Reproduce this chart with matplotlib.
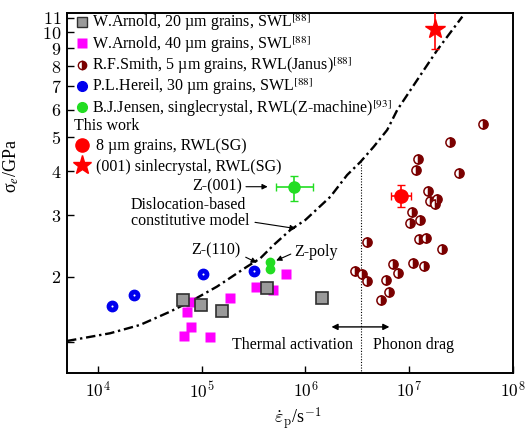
import matplotlib
matplotlib.use("Agg")
import matplotlib.pyplot as plt
from matplotlib.lines import Line2D
from matplotlib.font_manager import FontProperties

plt.rcParams["font.family"] = ["Liberation Serif", "DejaVu Serif"]
plt.rcParams["mathtext.fontset"] = "cm"

# ---------- data ----------
arnold20_x = [6.61e4, 9.92e4, 1.57e5, 4.30e5, 1.45e6]
arnold20_y = [1.714, 1.656, 1.595, 1.859, 1.741]

arnold40_x = [7.89e4, 7.27e4, 1.89e5, 3.37e5, 4.88e5, 6.56e5, 7.94e4, 6.80e4, 1.20e5]
arnold40_y = [1.696, 1.585, 1.741, 1.864, 1.828, 2.035, 1.433, 1.350, 1.341]

smith_x = [5.13e7, 2.45e7, 1.223e7, 1.17e7, 2.99e7, 1.527e7, 1.571e7, 1.836e7, 1.768e7,
           1.061e7, 1.023e7, 1.258e7, 3.94e6, 1.239e7, 1.46e7, 2.065e7, 6.91e6, 1.084e7,
           1.384e7, 7.84e6, 3.04e6, 3.55e6, 3.94e6, 6.01e6, 6.42e6, 5.41e6]
smith_y = [5.453, 4.853, 4.347, 4.036, 3.950, 3.508, 3.284, 3.327, 3.226,
           3.066, 2.853, 2.904, 2.517, 2.557, 2.584, 2.404, 2.174, 2.184,
           2.145, 2.052, 2.076, 2.035, 1.944, 1.956, 1.807, 1.714]

hereil_x = [1.365e4, 2.24e4, 1.044e5, 3.17e5]
hereil_y = [1.648, 1.769, 2.031, 2.076]

jensen001_x, jensen001_y = 7.71e5, 3.615
jensen001_xerr = [[2.46e5], [4.22e5]]
jensen001_yerr = [[0.32], [0.27]]
jensen_poly_x = [4.60e5, 4.60e5]
jensen_poly_y = [2.198, 2.099]

sg8_x, sg8_y = 8.38e6, 3.401
sg8_xerr = [[1.67e6], [2.09e6]]
sg8_yerr = [[0.23], [0.26]]

sc001_x, sc001_y = 1.768e7, 10.19
sc001_yerr = [[1.26], [1.44]]

model_x = [5.06e3, 1.314e4, 2.56e4, 4.98e4, 7.77e4, 1.407e5, 2.74e5, 3.68e5, 4.95e5,
           7.17e5, 1.0e6, 1.743e6, 2.525e6, 3.39e6, 4.56e6, 6.14e6, 7.67e6, 1.109e7,
           1.865e7, 3.25e7]
model_y = [1.309, 1.377, 1.455, 1.588, 1.696, 1.872, 2.135, 2.256, 2.463,
           2.719, 2.904, 3.385, 3.905, 4.255, 4.706, 5.253, 5.991, 7.063,
           8.894, 11.08]

boundary_x = 3.44e6
boundary_ytop = 4.255

yticks = [2, 3, 4, 5, 6, 7, 8, 9, 10, 11]
xticks = [1e4, 1e5, 1e6, 1e7, 1e8]
xtick_labels = [r"$10^{4}$", r"$10^{5}$", r"$10^{6}$", r"$10^{7}$", r"$10^{8}$"]

# ---------- figure ----------
fig = plt.figure(figsize=(5.28, 4.33), dpi=100)
ax = fig.add_axes([67 / 528, 1 - 373.3 / 433, (513 - 67) / 528, (373.3 - 12.7) / 433])
ax.set_xscale("log")
ax.set_yscale("log")
ax.set_xlim(5.06e3, 1e8)
ax.set_ylim(1.058, 11.37)

DARKRED = "#7a0000"

ax.plot(model_x, model_y, color="black", lw=1.7, dashes=(4, 1.6, 1, 1.6), zorder=2)
ax.plot([boundary_x, boundary_x], [1.0, boundary_ytop], color="black", lw=0.8,
        ls=(0, (1, 1.5)), zorder=1)

ax.plot(arnold40_x, arnold40_y, "s", ms=7.2, color="#ff00ff", mec="none", zorder=3)
ax.plot(arnold20_x, arnold20_y, "s", ms=8.2, mfc="#9a9a9a", mec="#303030", mew=1.2, zorder=4)
ax.plot(hereil_x, hereil_y, "o", ms=7.5, color="#0000ee", mec="#0000ee", zorder=4)
ax.plot(hereil_x, hereil_y, "o", ms=1.5, color="white", mec="none", zorder=5)
ax.plot(smith_x, smith_y, "o", ms=6.6, fillstyle="right", mfc=DARKRED, mfcalt="white",
        mec=DARKRED, mew=1.1, zorder=4)
ax.plot(jensen_poly_x, jensen_poly_y, "o", ms=6, color="#22dd22", zorder=4)
ax.errorbar(jensen001_x, jensen001_y, xerr=jensen001_xerr, yerr=jensen001_yerr, fmt="o",
            ms=8, color="#22dd22", ecolor="#22dd22", elinewidth=1.2, capsize=3, zorder=4)
ax.errorbar(sg8_x, sg8_y, xerr=sg8_xerr, yerr=sg8_yerr, fmt="o", ms=9.5, color="red",
            ecolor="red", elinewidth=1.2, capsize=3, zorder=5)
ax.errorbar(sc001_x, sc001_y, yerr=sc001_yerr, fmt="*", ms=15, color="red",
            ecolor="red", elinewidth=1.2, capsize=3, zorder=5)

# annotations
tfs = 11.5
arrow = dict(arrowstyle="-|>", color="black", lw=0.8, mutation_scale=8)
ax.annotate("", xy=(4.61e5, 3.615), xytext=(2.52e5, 3.615), arrowprops=arrow)
ax.text(2.45e5, 3.615, "Z-(001)", ha="right", va="center", fontsize=tfs)

ax.text(2.096e4, 3.041, "Dislocation-based\nconstitutive model", ha="left", va="center",
        fontsize=tfs, linespacing=0.95)
ax.annotate("", xy=(8.56e5, 2.737), xytext=(3.08e5, 2.867), arrowprops=arrow)

ax.text(1.385e5, 2.383, "Z-(110)", ha="center", va="center", fontsize=tfs)
ax.annotate("", xy=(3.60e5, 2.174), xytext=(2.52e5, 2.291), arrowprops=arrow)

ax.text(1.277e6, 2.357, "Z-poly", ha="center", va="center", fontsize=tfs)
ax.annotate("", xy=(4.95e5, 2.207), xytext=(7.66e5, 2.337), arrowprops=arrow)

ax.annotate("", xy=(1.678e6, 1.436), xytext=(6.86e6, 1.436),
            arrowprops=dict(arrowstyle="<|-|>", color="black", lw=1.0, mutation_scale=9))
ax.text(7.54e5, 1.275, "Thermal activation", ha="center", va="center", fontsize=tfs)
ax.text(1.096e7, 1.275, "Phonon drag", ha="center", va="center", fontsize=tfs)

# axes styling
ax.set_xticks(xticks)
ax.set_xticklabels(xtick_labels)
ax.set_yticks(yticks)
ax.set_yticklabels([r"$%d$" % v for v in yticks])
ax.yaxis.set_minor_locator(matplotlib.ticker.FixedLocator([1.3]))
ax.yaxis.set_minor_formatter(matplotlib.ticker.NullFormatter())
ax.xaxis.set_minor_locator(matplotlib.ticker.NullLocator())
ax.tick_params(which="both", direction="in", length=5, width=1.0)
ax.tick_params(axis="x", pad=6, labelsize=12.5)
ax.tick_params(axis="y", pad=4, labelsize=13)
for s in ax.spines.values():
    s.set_linewidth(1.4)

ax.set_xlabel(r"$\dot{\varepsilon}_{\mathrm{p}}$/s$^{-1}$", fontsize=13)
ax.xaxis.set_label_coords(0.517, -0.088)
ax.set_ylabel(r"σ$_{e}$/GPa", fontsize=13, math_fontfamily="stix")
ax.yaxis.set_label_coords(-0.103, 0.575)

# legends
fp = FontProperties(family="Liberation Serif", size=11.5, math_fontfamily="stix")
h1 = [
    Line2D([], [], ls="none", marker="s", ms=7.5, mfc="#9a9a9a", mec="#303030", mew=1.0),
    Line2D([], [], ls="none", marker="s", ms=7, color="#ff00ff", mec="none"),
    Line2D([], [], ls="none", marker="o", ms=6, fillstyle="right", mfc=DARKRED,
           mfcalt="white", mec=DARKRED, mew=1.0),
    Line2D([], [], ls="none", marker="o", ms=7, color="#0000ee"),
    Line2D([], [], ls="none", marker="o", ms=7, color="#22dd22"),
]
l1 = [
    "W.Arnold, 20 µm grains, SWL$^{[88]}$",
    "W.Arnold, 40 µm grains, SWL$^{[88]}$",
    "R.F.Smith, 5 µm grains, RWL(Janus)$^{[88]}$",
    "P.L.Hereil, 30 µm grains, SWL$^{[88]}$",
    "B.J.Jensen, singlecrystal, RWL(Z-machine)$^{[93]}$",
]
leg1 = ax.legend(h1, l1, loc="upper left", bbox_to_anchor=(0.019, 1.0), frameon=False,
                 prop=fp, handlelength=0.8, handletextpad=0.26, labelspacing=0.05,
                 borderpad=0.0, borderaxespad=0.0, numpoints=1)
ax.add_artist(leg1)

h2 = [
    Line2D([], [], ls="none", marker="o", ms=9.5, color="red"),
    Line2D([], [], ls="none", marker="*", ms=14, color="red"),
]
l2 = ["8 µm grains, RWL(SG)", "(001) sinlecrystal, RWL(SG)"]
leg2 = ax.legend(h2, l2, loc="upper left", bbox_to_anchor=(0.016, 0.708), frameon=False,
                 prop=fp, title="This work", title_fontproperties=fp, alignment="left",
                 handlelength=1.0, handletextpad=0.37, labelspacing=0.28,
                 borderpad=0.0, borderaxespad=0.0, numpoints=1)

fig.savefig("out.png", dpi=100)
